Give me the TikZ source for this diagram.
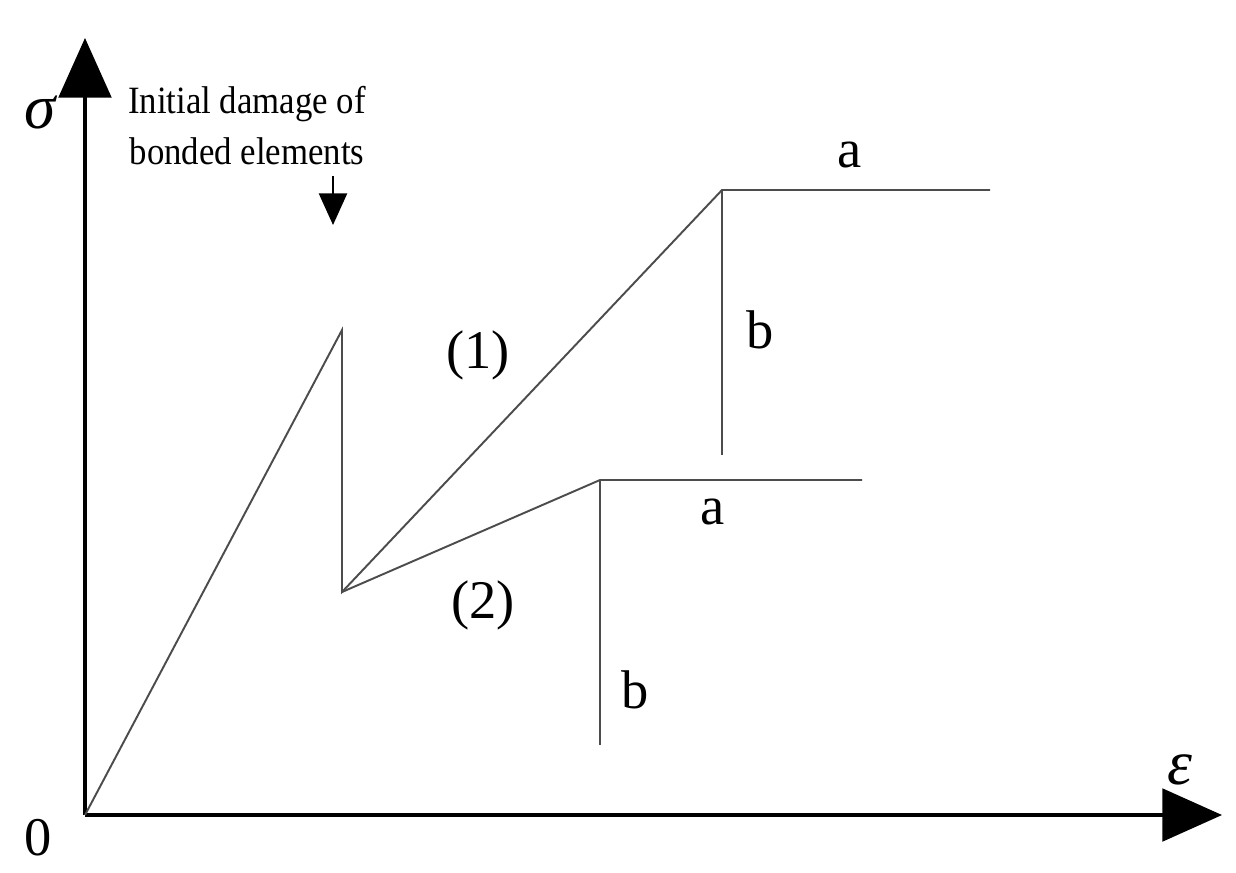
\documentclass[tikz,border=0pt]{standalone}
\usepackage{fontspec}
\setmainfont{Liberation Serif}
\usetikzlibrary{arrows.meta}
\begin{document}
\begin{tikzpicture}[x=0.02cm,y=-0.02cm,
  axis/.style={line width=1.8pt,-{Triangle[length=34,width=30]}},
  curve/.style={line width=1.1pt,draw=black!70},
  lbl/.style={font=\fontsize{31}{34}\selectfont,inner sep=0pt},
  gr/.style={font=\fontsize{36}{38}\selectfont\itshape,inner sep=0pt},
  ann/.style={font=\fontsize{22}{29}\selectfont\addfontfeature{FakeStretch=0.9},align=center,inner sep=0pt}]
\useasboundingbox (0,0) rectangle (1236,872);
\coordinate (O) at (85,815);
\coordinate (Y) at (85,38);
\coordinate (X) at (1222,815);
\draw[axis] (O) -- (Y);
\draw[axis] (O) -- (X);
\coordinate (P) at (342,330);
\coordinate (Q) at (342,592);
\coordinate (A1) at (722,190);
\coordinate (E1) at (990,190);
\coordinate (B1) at (722,455);
\coordinate (A2) at (600,480);
\coordinate (E2) at (862,480);
\coordinate (B2) at (600,745);
\draw[curve] (O) -- (P) -- (Q) -- (A1) -- (E1);
\draw[curve] (A1) -- (B1);
\draw[curve] (Q) -- (A2) -- (E2);
\draw[curve] (A2) -- (B2);
\node[gr] (sig) at (40,112) {σ};
\node[gr] (eps) at (1180,770) {ε};
\node[lbl] (zero) at (38,838) {0};
\node[ann] (init) at (247,126) {Initial damage of\\bonded elements};
\coordinate (t1) at (333,176);
\coordinate (t2) at (333,225);
\draw[line width=1.2pt,-{Triangle[length=18,width=16]}] (t1) -- (t2);
\node[lbl] (a1) at (850,155) {a};
\node[lbl] (b1) at (760,330) {b};
\node[lbl] (l1) at (478,355) {(1)};
\node[lbl] (a2) at (713,512) {a};
\node[lbl] (l2) at (483,605) {(2)};
\node[lbl] (b2) at (635,690) {b};
\end{tikzpicture}
\end{document}
